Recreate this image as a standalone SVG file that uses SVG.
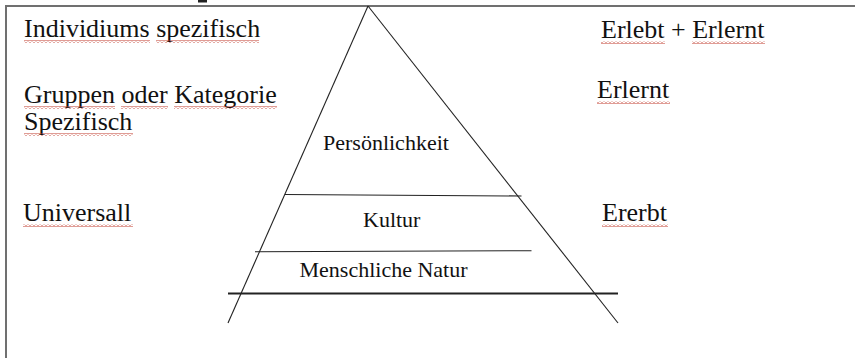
<svg xmlns="http://www.w3.org/2000/svg" width="855" height="358" viewBox="0 0 855 358">
  <style>
    text { font-family: 'Liberation Serif', 'DejaVu Serif', serif; fill: #111; }
    .lbl { font-size: 26px; }
    .inner { font-size: 22px; }
    .frame { stroke: #707070; stroke-width: 2; fill: none; }
    .edge { stroke: #222; stroke-width: 1.1; fill: none; }
    .base { stroke: #222; stroke-width: 1.8; fill: none; }
  </style>
  <defs>
    <pattern id="squig" patternUnits="userSpaceOnUse" width="4" height="3">
      <path d="M0 2.5 L2 0.5 L4 2.5" stroke="#c0392b" stroke-width="1" fill="none"/>
    </pattern>
  </defs>
  <rect width="855" height="358" fill="#ffffff"/>

  <g id="frame">
    <line class="frame" x1="5" y1="6" x2="855" y2="6"/>
    <line class="frame" x1="6" y1="6" x2="6" y2="358"/>
    <rect x="198" y="0" width="9" height="2.5" fill="#222"/>
  </g>

  <g id="connectors">
    <line class="edge" x1="368" y1="6" x2="228" y2="323"/>
    <line class="edge" x1="368" y1="6" x2="618" y2="323"/>
    <line class="edge" x1="285" y1="194.5" x2="521.5" y2="196"/>
    <line class="edge" x1="255" y1="251.8" x2="531.5" y2="250.7"/>
    <line class="base" x1="228" y1="293.5" x2="618" y2="293.5"/>
  </g>

  <g id="node-individiums">
    <text class="lbl" font-family="Liberation Serif, serif" x="24" y="37">Individiums spezifisch</text>
    <rect x="24" y="40" width="126" height="3" fill="url(#squig)"/>
    <rect x="156" y="40" width="103" height="3" fill="url(#squig)"/>
  </g>

  <g id="node-gruppen">
    <text class="lbl" font-family="Liberation Serif, serif" x="24" y="103">Gruppen oder Kategorie</text>
    <text class="lbl" font-family="Liberation Serif, serif" x="24" y="130">Spezifisch</text>
    <rect x="24" y="106" width="91" height="3" fill="url(#squig)"/>
    <rect x="121" y="106" width="47" height="3" fill="url(#squig)"/>
    <rect x="174" y="106" width="103" height="3" fill="url(#squig)"/>
    <rect x="24" y="133" width="109" height="3" fill="url(#squig)"/>
  </g>

  <g id="node-universall">
    <text class="lbl" font-family="Liberation Serif, serif" x="23" y="221">Universall</text>
    <rect x="23" y="224" width="110" height="3" fill="url(#squig)"/>
  </g>

  <g id="node-erlebt">
    <text class="lbl" font-family="Liberation Serif, serif" x="601" y="38">Erlebt + Erlernt</text>
    <rect x="601" y="41" width="64" height="3" fill="url(#squig)"/>
    <rect x="692" y="41" width="73" height="3" fill="url(#squig)"/>
  </g>

  <g id="node-erlernt">
    <text class="lbl" font-family="Liberation Serif, serif" x="597" y="98">Erlernt</text>
    <rect x="597" y="101" width="73" height="3" fill="url(#squig)"/>
  </g>

  <g id="node-ererbt">
    <text class="lbl" font-family="Liberation Serif, serif" x="602" y="221">Ererbt</text>
    <rect x="602" y="224" width="66" height="3" fill="url(#squig)"/>
  </g>

  <g id="node-persoenlichkeit">
    <text class="inner" font-family="Liberation Serif, serif" x="323" y="149.5">Persönlichkeit</text>
  </g>

  <g id="node-kultur">
    <text class="inner" font-family="Liberation Serif, serif" x="363" y="226.5">Kultur</text>
  </g>

  <g id="node-natur">
    <text class="inner" font-family="Liberation Serif, serif" x="299.5" y="276.5">Menschliche Natur</text>
  </g>
</svg>
